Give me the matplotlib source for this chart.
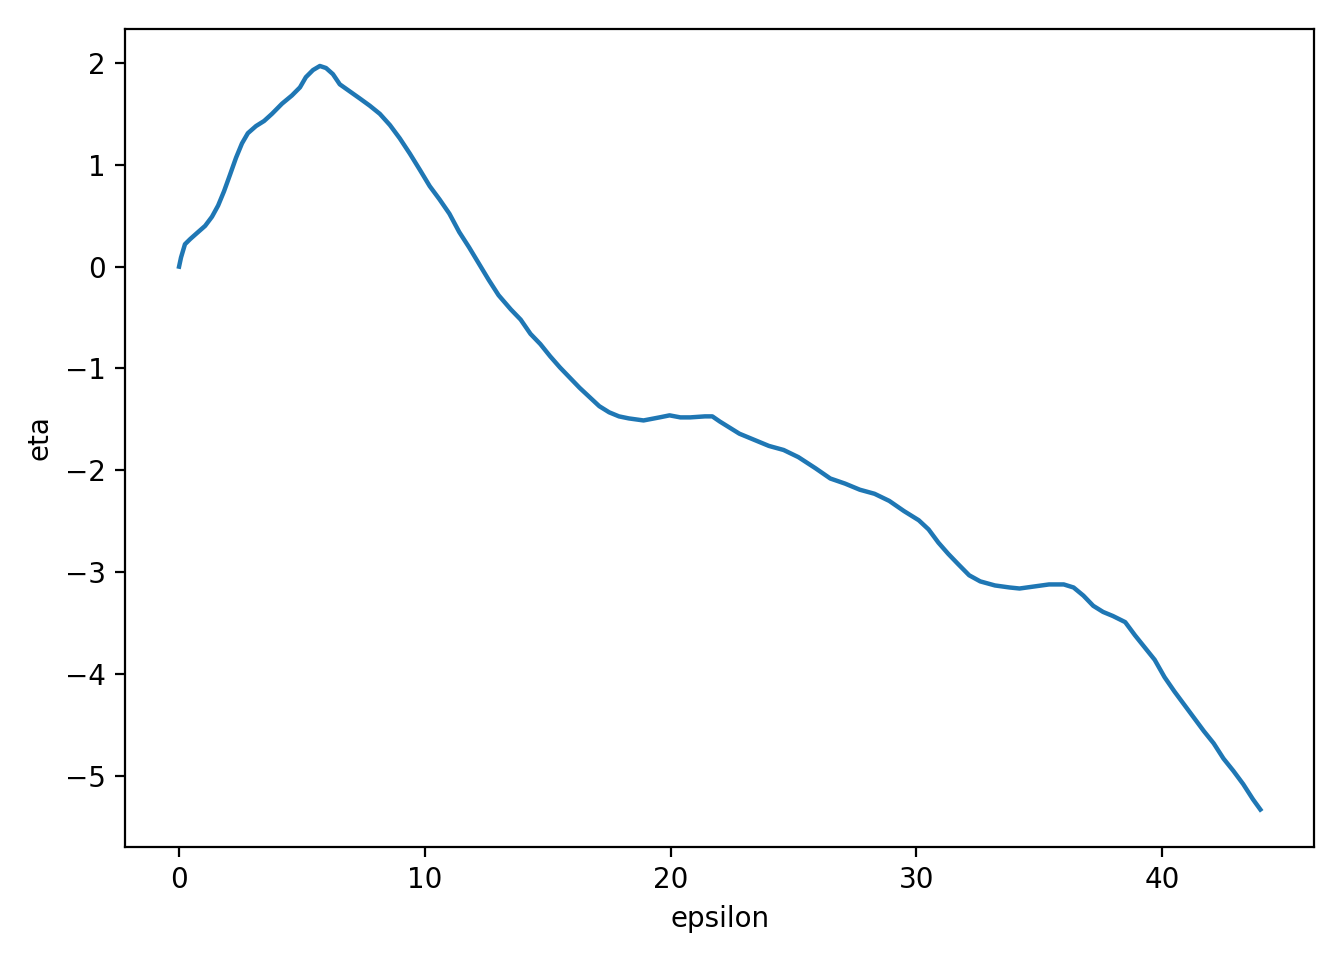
import matplotlib
matplotlib.use('Agg')
import matplotlib.pyplot as plt

# values
epsilon = [0.0, 0.08, 0.24, 0.45, 0.73, 1.06, 1.34, 1.59, 1.83, 2.07,
           2.32, 2.56, 2.80, 3.13, 3.46, 3.78, 4.19, 4.59, 4.92, 5.16,
           5.45, 5.73, 5.98, 6.26, 6.54, 6.95, 7.36, 7.76, 8.17, 8.58,
           8.98, 9.39, 9.80, 10.2, 10.6, 11.0, 11.4, 11.8, 12.2, 12.6,
           13.0, 13.5, 13.9, 14.3, 14.7, 15.1, 15.5, 15.9, 16.3, 16.7,
           17.1, 17.5, 17.9, 18.3, 18.9, 19.55, 19.96, 20.4, 20.8, 21.4,
           21.7, 22.0, 22.4, 22.8, 23.4, 24.0, 24.6, 25.2, 25.9, 26.5,
           27.1, 27.7, 28.3, 28.9, 29.5, 30.1, 30.5, 30.9, 31.3, 31.7,
           32.15, 32.6, 33.2, 33.8, 34.2, 34.8, 35.4, 36.0, 36.4, 36.8,
           37.2, 37.6, 38.0, 38.5, 38.9, 39.3, 39.7, 40.1, 40.5, 40.9,
           41.3, 41.7, 42.1, 42.5, 42.9, 43.3, 43.7, 44.0]
eta = [0.0, 0.09, 0.22, 0.27, 0.33, 0.40, 0.49, 0.60, 0.74, 0.90,
       1.07, 1.21, 1.31, 1.38, 1.43, 1.50, 1.60, 1.68, 1.76, 1.86,
       1.93, 1.97, 1.95, 1.89, 1.79, 1.72, 1.65, 1.58, 1.50, 1.39,
       1.26, 1.11, 0.95, 0.79, 0.66, 0.52, 0.34, 0.19, 0.03, -0.13,
       -0.28, -0.42, -0.52, -0.66, -0.76, -0.88, -0.99, -1.09, -1.19, -1.28,
       -1.37, -1.43, -1.47, -1.49, -1.51, -1.48, -1.46, -1.48, -1.48, -1.47,
       -1.47, -1.52, -1.58, -1.64, -1.70, -1.76, -1.80, -1.87, -1.98, -2.08,
       -2.13, -2.19, -2.23, -2.30, -2.40, -2.49, -2.58, -2.71, -2.82, -2.92,
       -3.03, -3.09, -3.13, -3.15, -3.16, -3.14, -3.12, -3.12, -3.15, -3.23,
       -3.33, -3.39, -3.43, -3.49, -3.62, -3.74, -3.86, -4.03, -4.17, -4.30,
       -4.43, -4.56, -4.68, -4.83, -4.95, -5.08, -5.23, -5.33]

fig, ax = plt.subplots(figsize=(6.72, 4.8), dpi=200)
ax.plot(epsilon, eta, linewidth=1.6)
ax.set_xlabel('epsilon')
ax.set_ylabel('eta')
fig.subplots_adjust(left=0.093, right=0.978, top=0.970, bottom=0.118)
plt.savefig('out.png', dpi=200)
